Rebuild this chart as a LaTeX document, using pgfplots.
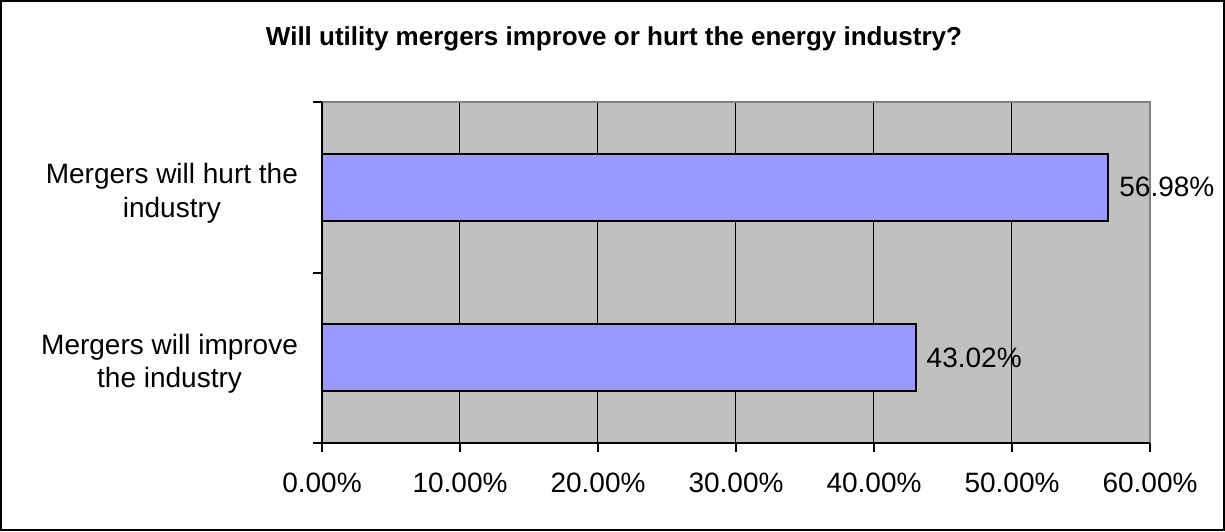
\documentclass[border=0pt]{standalone}
\usepackage{pgfplots}
\pgfplotsset{compat=1.18}
\usepackage{fontspec}
\setmainfont{Liberation Sans}
\definecolor{plotbg}{HTML}{C0C0C0}
\definecolor{barfill}{HTML}{9999FF}
\definecolor{frame}{HTML}{808080}
\begin{document}
\begin{tikzpicture}
\useasboundingbox (0,0) rectangle (612.5pt,265.5pt);
\draw[black, line width=1pt] (0.5pt,0.5pt) rectangle (612pt,265pt);
\node[anchor=base, font=\fontsize{13}{15}\selectfont\bfseries] at (307pt,242.6pt) {Will utility mergers improve or hurt the energy industry?};
\begin{axis}[
  at={(161pt,44pt)}, anchor=south west,
  scale only axis, width=414pt, height=170.5pt,
  /pgf/number format/assume math mode=true,
  xbar, bar width=33.5pt,
  xmin=0, xmax=60, ymin=-0.5, ymax=1.5,
  axis background/.style={fill=plotbg},
  axis line style={draw=none},
  xtick pos=bottom, ytick pos=left,
  xtick={0,10,20,30,40,50,60},
  xticklabels={0.00\%,10.00\%,20.00\%,30.00\%,40.00\%,50.00\%,60.00\%},
  ytick={-0.5,0.5,1.5}, yticklabels={},
  extra y ticks={0,1},
  extra y tick labels={Mergers will improve\\the industry, Mergers will hurt the\\industry},
  extra y tick style={major tick length=0pt, yticklabel style={align=center, xshift=-8.5pt, yshift=-3pt, font=\fontsize{14}{16.7}\selectfont}},
  tick align=outside, major tick length=4.5pt,
  tick style={black, line width=1pt},
  xticklabel style={font=\fontsize{14}{16.7}\selectfont, yshift=-7pt},
  xmajorgrids=true, ymajorgrids=false,
  major grid style={black, line width=0.5pt},
  point meta=x,
  nodes near coords={\pgfmathprintnumber[fixed,fixed zerofill,precision=2]{\pgfplotspointmeta}\%},
  every node near coord/.append style={font=\fontsize{14}{16.7}\selectfont, black, xshift=1.7pt},
  clip=false,
]
\addplot[fill=barfill, draw=black, line width=1pt] coordinates {(43.02,0) (56.98,1)};
\draw[frame, line width=1pt] (rel axis cs:0,1) -- (rel axis cs:1,1) -- (rel axis cs:1,0);
\draw[black, line width=1pt] (rel axis cs:0,1) -- (rel axis cs:0,0) -- (rel axis cs:1,0);
\end{axis}
\end{tikzpicture}
\end{document}
